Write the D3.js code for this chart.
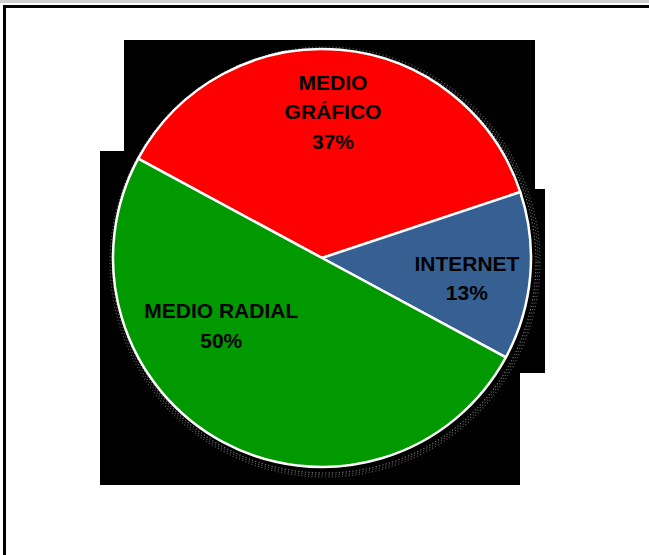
<!DOCTYPE html>
<html>
<head>
<meta charset="utf-8">
<script src="https://cdn.jsdelivr.net/npm/d3@7"></script>
<style>
  html, body { margin: 0; padding: 0; background: #fff; }
  svg { display: block; }
</style>
</head>
<body>
<svg id="chart" width="649" height="555"></svg>
<script>
// chart data
const categories = ["MEDIO GRÁFICO", "INTERNET", "MEDIO RADIAL"];
const labelLines = [["MEDIO", "GRÁFICO"], ["INTERNET"], ["MEDIO RADIAL"]];
const values = [37, 13, 50];
const colors = ["#ff0000", "#376092", "#009900"];

const width = 649, height = 555;
const cx = 322, cy = 258, radius = 209;

const svg = d3.select("#chart");

// page frame: gray strip on top, black border top & left
svg.append("rect").attr("x", 0).attr("y", 0).attr("width", width).attr("height", 3).attr("fill", "#d0d0d0");
svg.append("path")
  .attr("d", "M4.5,555 V6.5 H649")
  .attr("stroke", "#000").attr("stroke-width", 3).attr("fill", "none");

// black backdrop behind the pie (stepped shape)
svg.append("path")
  .attr("d", "M124,40 H535 V189 H545 V373 H520 V485 H100 V151 H124 Z")
  .attr("fill", "#000");

const g = svg.append("g").attr("transform", `translate(${cx},${cy})`);

// dotted soft shadow at lower right
const shadow = g.append("g").attr("transform", "translate(3,4)");
[2, 4, 6].forEach((d, i) => {
  shadow.append("circle")
    .attr("r", radius + d)
    .attr("fill", "none")
    .attr("stroke", i === 0 ? "#777" : "#555")
    .attr("stroke-width", 1.2)
    .attr("stroke-dasharray", "1.2,2.2");
});

const pie = d3.pie()
  .sort(null)
  .value(d => d)
  .startAngle(-61.6 * Math.PI / 180)
  .endAngle(-61.6 * Math.PI / 180 + 2 * Math.PI);

const arcs = pie(values);
const arc = d3.arc().innerRadius(0).outerRadius(radius);

g.selectAll("path.slice")
  .data(arcs)
  .join("path")
  .attr("class", "slice")
  .attr("d", arc)
  .attr("fill", (d, i) => colors[i])
  .attr("stroke", "#fff")
  .attr("stroke-width", 2.5)
  .attr("stroke-linejoin", "round");

// label placement: radius fraction and angle nudge (degrees) per slice
const labelRadius = [0.70, 0.70, 0.58];
const labelNudge = [-0.7, 3, 27.8];

const lineH = 29.5;
g.selectAll("text.lbl")
  .data(arcs)
  .join("text")
  .attr("class", "lbl")
  .attr("font-family", "'Liberation Sans', Arial, sans-serif")
  .attr("font-weight", "bold")
  .attr("font-size", 21)
  .attr("fill", "#000")
  .attr("text-anchor", "middle")
  .each(function(d, i) {
    const a = (d.startAngle + d.endAngle) / 2 + labelNudge[i] * Math.PI / 180;
    const r = radius * labelRadius[i];
    const x = r * Math.sin(a), y = -r * Math.cos(a);
    const lines = labelLines[i].concat([Math.round(values[i]) + "%"]);
    const top = y - (lines.length - 1) * lineH / 2;
    const t = d3.select(this);
    lines.forEach((s, k) => {
      t.append("tspan")
        .attr("x", x)
        .attr("y", top + k * lineH)
        .attr("dy", "0.35em")
        .text(s);
    });
  });
</script>
</body>
</html>
